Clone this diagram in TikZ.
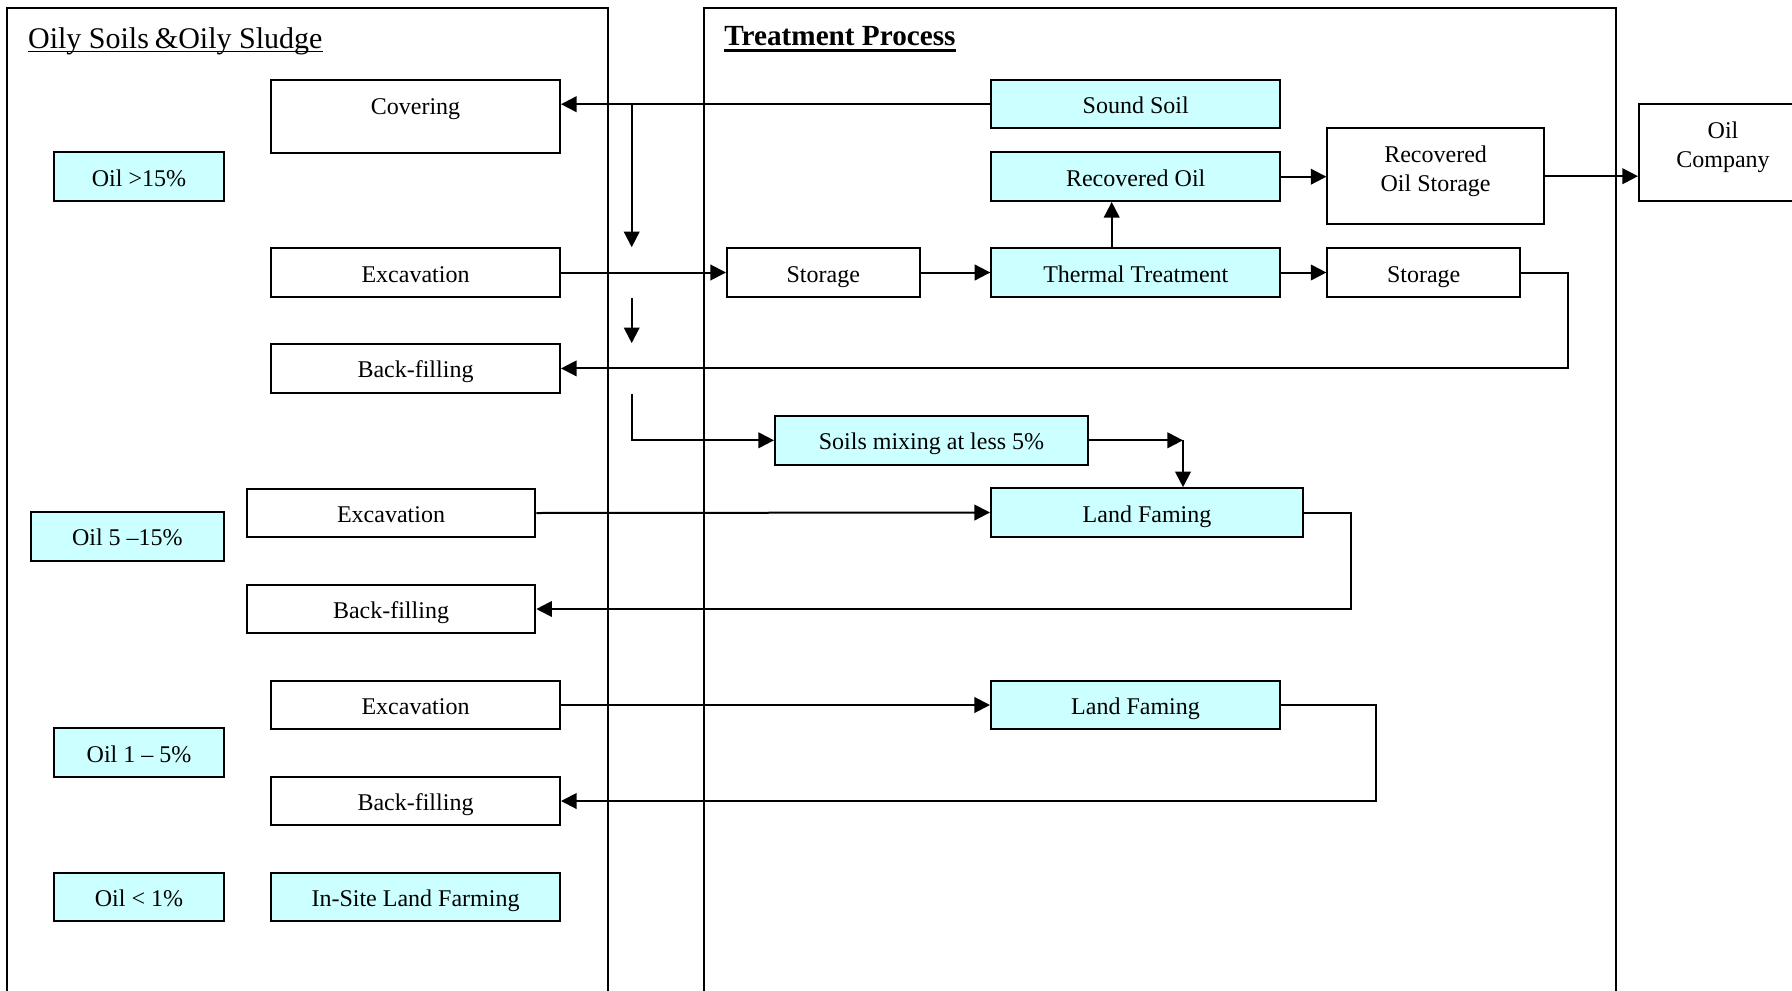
\documentclass[tikz,border=0pt]{standalone}
\usepackage{fontspec}
\setmainfont{Liberation Serif}
\usetikzlibrary{arrows.meta}
\definecolor{paleCyan}{HTML}{CCFFFF}
\begin{document}
\begin{tikzpicture}[x=0.5pt, y=-0.5pt,
  plain/.style={inner sep=0pt, font=\fontsize{12}{14}\selectfont, text height=9.5pt, text depth=0pt},
  box/.style={plain, draw, line width=1pt, minimum width=144.5pt, minimum height=24.3pt},
  tint/.style={box, fill=paleCyan},
  txt/.style={inner sep=0pt, font=\fontsize{12}{14.4}\selectfont, align=center},
  flow/.style={line width=1pt, -{Triangle[length=7.8pt,width=7.8pt]}},
  panel/.style={draw, line width=1pt},
  heading/.style={inner sep=0pt, font=\fontsize{15}{17}\selectfont, anchor=base west}
]
\useasboundingbox (0,0) rectangle (1792,990);
\clip (0,0) rectangle (1792,990);

% the two swim-lane panels (open at the bottom of the page)
\draw[panel] (6.7,8.3) rectangle (607.7,1010);
\draw[panel] (703.6,8.3) rectangle (1615.7,1010);

% panel headings with their underlines
\node[heading] (ttlL) at (27.7,48.3) {Oily Soils\hskip3pt \&Oily Sludge};
\draw[line width=0.75pt] ([yshift=-1.6pt]ttlL.base west) -- ([yshift=-1.6pt]ttlL.base east);
\node[heading, font=\fontsize{14.6}{17}\selectfont\bfseries] (ttlR) at (724,45.7) {Treatment Process};
\draw[line width=1.25pt] ([yshift=-2.3pt]ttlR.base west) -- ([yshift=-2.3pt]ttlR.base east);

% oil content classes and site operations
\node[box, minimum height=36.3pt, label={[plain,yshift=5.4pt]center:Covering}] (cov) at (415.5,116.3) {};
\node[tint, minimum width=84.6pt, minimum height=24.5pt] (oilA) at (139,176.5) {Oil >15\%};
\node[box] (excA) at (415.5,272.5) {Excavation};
\node[box] (backA) at (415.5,368.4) {Back-filling};

\node[tint, minimum width=96.3pt] (oilB) at (127.4,536.3) {Oil 5 –15\%};
\node[box, minimum width=144.3pt] (excB) at (391,513) {Excavation};
\node[box, minimum width=144.3pt] (backB) at (391,609) {Back-filling};

\node[box] (excC) at (415.5,705) {Excavation};
\node[tint, minimum width=84.6pt] (oilC) at (139,752.7) {Oil 1 – 5\%};
\node[box] (backC) at (415.5,801) {Back-filling};

\node[tint, minimum width=84.6pt] (oilD) at (139,897) {Oil < 1\%};
\node[tint] (insite) at (415.5,897) {In-Site Land Farming};

% treatment steps
\node[tint] (sound) at (1135.7,104.2) {Sound Soil};
\node[tint] (recoil) at (1135.7,176.7) {Recovered Oil};
\node[box, minimum width=108.2pt, minimum height=48.2pt,
      label={[txt,yshift=2.65pt]center:Recovered\\Oil Storage}] (ros) at (1435.6,176.2) {};
\node[box, minimum width=84pt, minimum height=48.2pt,
      label={[txt,yshift=2.65pt]center:Oil\\Company}] (oilco) at (1723,152.5) {};
\node[box, minimum width=96.3pt] (stA) at (823.3,272.5) {Storage};
\node[tint] (therm) at (1135.8,272.5) {Thermal Treatment};
\node[box, minimum width=96.3pt] (stB) at (1423.7,272.5) {Storage};
\node[tint, minimum width=156.5pt] (mix) at (931.5,440.3) {Soils mixing at less 5\%};
\node[tint, minimum width=156pt] (farmA) at (1147,512.5) {Land Faming};
\node[tint] (farmB) at (1135.5,705) {Land Faming};

% routing points
\coordinate (split) at (631.7,104.2);
\coordinate (retA) at (1568,272.5);
\coordinate (drop) at (1183,440.3);
\coordinate (retB) at (1351,512.5);
\coordinate (retC) at (1375.5,705);
\coordinate (rise) at (1111.7,272.5);

% connectors
\draw[flow] (sound.west) -- (sound.west -| cov.east);
\draw[flow] (split) -- (split |- excA.north);
\draw[flow] (excA.east) -- (stA.west);
\draw[flow] (split |- excA.south) -- (split |- backA.north);
\draw[flow] (stB.east) -- (retA) |- (backA.east);
\draw[flow] (split |- backA.south) |- (mix.west);
\draw[flow] (mix.east) -- (drop);
\draw[flow] (drop) -- (drop |- farmA.north);
\draw[flow] (excB.east) -- (farmA.west);
\draw[flow] (farmA.east) -- (retB) |- (backB.east);
\draw[flow] (excC.east) -- (farmB.west);
\draw[flow] (farmB.east) -- (retC) |- (backC.east);
\draw[flow] (stA.east) -- (therm.west);
\draw[flow] (rise |- therm.north) -- (rise |- recoil.south);
\draw[flow] (recoil.east) -- (recoil.east -| ros.west);
\draw[flow] (therm.east) -- (stB.west);
\draw[flow] (ros.east) -- (ros.east -| oilco.west);
\end{tikzpicture}
\end{document}
